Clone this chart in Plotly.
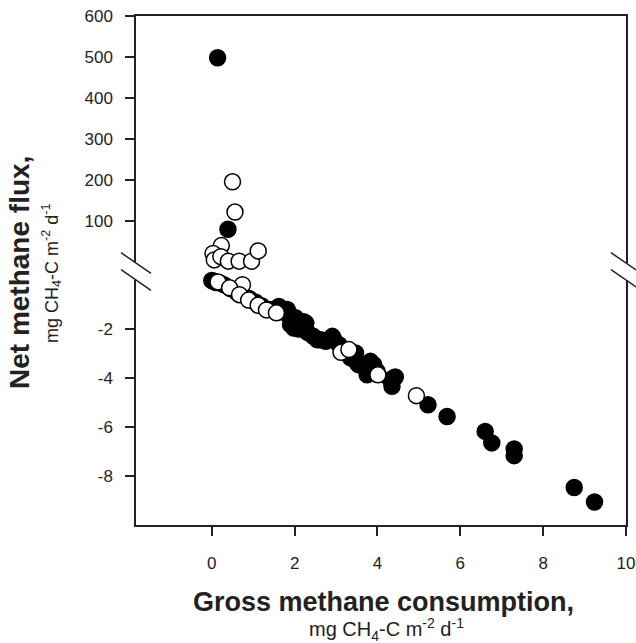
import plotly.graph_objects as go

# ---- data (gross consumption x, net flux y) ----
filled_x = [0.14, 0.39, 0.00, 0.05, 0.10, 0.20, 0.30, 0.45, 0.60, 0.75, 0.90, 1.05, 1.20, 1.40,
            1.62, 1.78, 1.82, 1.86, 1.90, 1.98, 2.02, 2.10, 2.22, 2.27, 2.31, 2.45, 2.55, 2.63,
            2.75, 2.91, 2.95, 3.07, 3.35, 3.47, 3.51, 3.55, 3.67, 3.75, 3.83, 3.91, 3.99, 4.31,
            4.35, 4.39, 4.43, 5.22, 5.68, 6.60, 6.76, 7.30, 7.30, 8.75, 9.24]
filled_y = [498, 79, -0.02, -0.05, -0.10, -0.12, -0.20, -0.35, -0.50, -0.60, -0.75, -0.90, -1.05, -1.20,
            -1.08, -1.35, -1.20, -1.35, -1.82, -1.96, -1.54, -2.00, -1.70, -1.76, -2.14, -2.30, -2.44, -2.44,
            -2.50, -2.30, -2.44, -2.64, -3.18, -2.98, -3.39, -3.46, -3.53, -3.87, -3.32, -3.46, -3.73, -4.07,
            -4.34, -4.00, -3.96, -5.09, -5.57, -6.18, -6.65, -6.90, -7.17, -8.47, -9.06]

open_x = [0.50, 0.56, 0.23, 0.03, 0.06, 0.22, 0.40, 0.66, 0.96, 1.12,
          0.15, 0.74, 0.43, 0.67, 0.89, 1.12, 1.32, 1.56, 3.12, 3.31, 4.01, 4.94]
open_y = [195, 121, 39, 20, 4, 12, 1, 1, 1, 26,
          -0.08, -0.19, -0.32, -0.60, -0.82, -1.03, -1.22, -1.34, -2.95, -2.84, -3.87, -4.72]

x_ticks = [0, 2, 4, 6, 8, 10]
upper_ticks = [100, 200, 300, 400, 500, 600]
lower_ticks = [-8, -6, -4, -2]

# ---- layout geometry (pixels) ----
W, H = 636, 643
L, R, T, B = 136, 10, 16, 118
plot_w = W - L - R
plot_h = H - T - B
bottom_px = H - B
upper_bottom_px = 263
lower_top_px = 280


def px_x(px):
    return (px - L) / plot_w


def px_y(py):
    return (bottom_px - py) / plot_h


def split(xs, ys, upper):
    pts = [(a, b) for a, b in zip(xs, ys) if (b > 0) == upper]
    return [p[0] for p in pts], [p[1] for p in pts]


fig = go.Figure()
black = dict(size=16, color="black", line=dict(color="black", width=1.5))
white = dict(size=16, color="white", line=dict(color="black", width=1.5))

for upper, xa, ya in [(False, "x", "y"), (True, "x2", "y2")]:
    fx, fy = split(filled_x, filled_y, upper)
    ox, oy = split(open_x, open_y, upper)
    fig.add_trace(go.Scatter(x=fx, y=fy, mode="markers", marker=black, xaxis=xa, yaxis=ya,
                             cliponaxis=False, showlegend=False, hoverinfo="skip"))
    fig.add_trace(go.Scatter(x=ox, y=oy, mode="markers", marker=white, xaxis=xa, yaxis=ya,
                             cliponaxis=False, showlegend=False, hoverinfo="skip"))

font = "Liberation Sans, Arial, sans-serif"
axis_common = dict(showgrid=False, zeroline=False, showline=True, linecolor="#222",
                   linewidth=1.5, ticks="outside", ticklen=9, tickwidth=1.5, tickcolor="#222",
                   automargin=False,
                   tickfont=dict(family=font, size=17, color="#222"))

fig.update_layout(
    width=W, height=H,
    margin=dict(l=L, r=R, t=T, b=B, pad=0, autoexpand=False),
    paper_bgcolor="white", plot_bgcolor="white",
    showlegend=False,
    xaxis=dict(range=[-1.83, 10], tickvals=x_ticks, ticktext=[str(v) for v in x_ticks],
               anchor="y", domain=[0, 1], ticklabelstandoff=13, **axis_common),
    xaxis2=dict(range=[-1.83, 10], matches="x", anchor="y2", side="top", showgrid=False,
                zeroline=False, showline=True, linecolor="#222", linewidth=1.5,
                ticks="", showticklabels=False, automargin=False),
    yaxis=dict(range=[-10, 0], tickvals=lower_ticks, ticktext=[str(v) for v in lower_ticks],
               domain=[0, px_y(lower_top_px)], anchor="x", mirror=True,
               ticklabelstandoff=9, **axis_common),
    yaxis2=dict(range=[-3.5, 600], tickvals=upper_ticks, ticktext=[str(v) for v in upper_ticks],
                domain=[px_y(upper_bottom_px), 1], anchor="x2", mirror=True,
                ticklabelstandoff=9, **axis_common),
)

# axis break marks
shapes = []
for cx in (L, W - R):
    for cy in (upper_bottom_px, lower_top_px):
        shapes.append(dict(type="line", xref="paper", yref="paper",
                           x0=px_x(cx - 15), y0=px_y(cy - 10.3),
                           x1=px_x(cx + 15), y1=px_y(cy + 10.3),
                           line=dict(color="#222", width=1.5)))
fig.update_layout(shapes=shapes)

sub = "mg CH<sub>4</sub>-C m<sup>-2</sup> d<sup>-1</sup>"
ann = [
    dict(text="<b>Gross methane consumption,</b>", x=px_x(383), y=px_y(602),
         font=dict(family=font, size=27, color="#222")),
    dict(text=sub, x=px_x(386), y=px_y(629), font=dict(family=font, size=20, color="#222")),
    dict(text="<b>Net methane flux,</b>", x=px_x(19), y=px_y(273), textangle=-90,
         font=dict(family=font, size=28, color="#222")),
    dict(text=sub, x=px_x(51), y=px_y(274), textangle=-90,
         font=dict(family=font, size=18, color="#222")),
]
for a in ann:
    a.update(xref="paper", yref="paper", xanchor="center", yanchor="middle", showarrow=False)
fig.update_layout(annotations=ann)

fig.write_html("out.html")
